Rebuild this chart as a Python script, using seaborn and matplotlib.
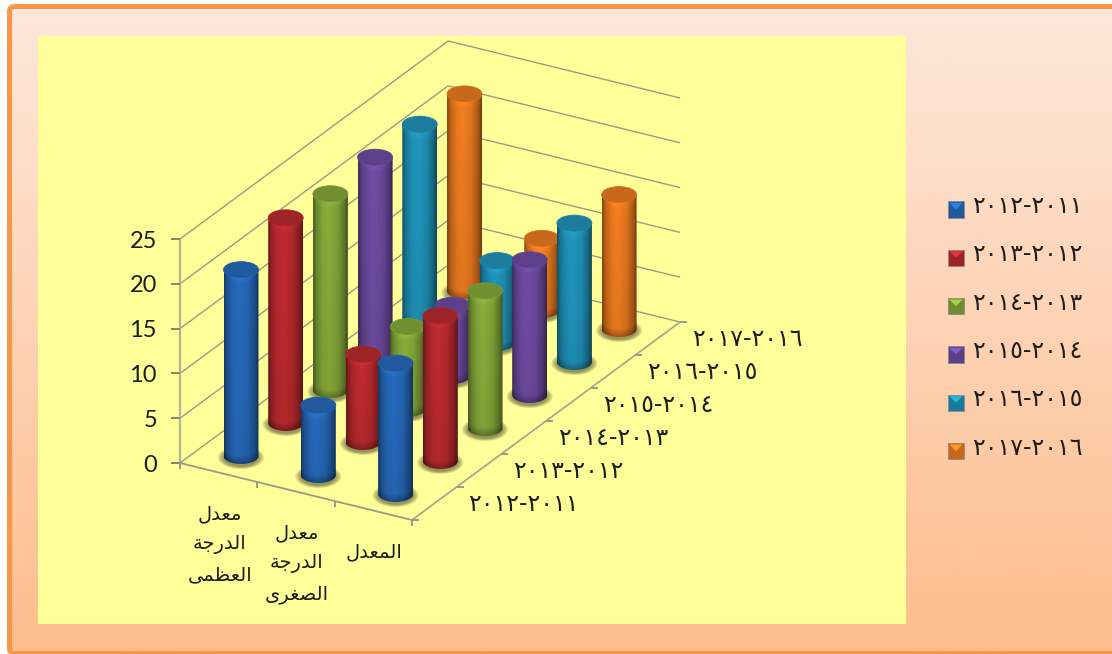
import numpy as np
import pandas as pd
import seaborn as sns
import matplotlib
matplotlib.use("Agg")
import matplotlib.pyplot as plt
from matplotlib.colors import to_rgb
from matplotlib.legend_handler import HandlerBase
from matplotlib.patches import Ellipse, FancyBboxPatch, Patch, PathPatch, Polygon, Rectangle
from matplotlib.path import Path

# ---- data -------------------------------------------------------------
periods = ["2012-2011", "2013-2012", "2014-2013", "2015-2014", "2016-2015", "2017-2016"]
categories = ["معدل\nالدرجة\nالعظمى", "معدل\nالدرجة\nالصغرى", "المعدل"]
max_temp = [20.8, 22.9, 21.9, 22.3, 22.3, 22.0]
min_temp = [7.8, 9.8, 9.2, 7.9, 9.2, 8.0]
mean_temp = [14.6, 16.2, 15.3, 15.1, 15.5, 15.0]
value_ticks = [0, 5, 10, 15, 20, 25]
series_colors = ["#2567B6", "#B8292D", "#83A638", "#6C4A9F", "#1F90B6", "#E9791E"]

# ---- oblique chart geometry, in figure pixels ---------------------------
W, H = 1112, 654
ORIGIN = np.array([180.0, 463.0])
CAT_STEP = np.array([77.3, 19.0])
DEPTH_STEP = np.array([44.7, -33.0])
PX_PER_UNIT = 8.96
RX, RY = 17.5, 8.0


def project(cat, depth, value=0.0):
    """Map (category, series depth, value) on to the figure plane."""
    return ORIGIN + cat * CAT_STEP + depth * DEPTH_STEP - np.array([0.0, value * PX_PER_UNIT])


# ---- Arabic shaping: matplotlib draws glyphs in string order, left to right -
FORMS = {
    "ا": ("\ufe8d", "\ufe8e"), "د": ("\ufea9", "\ufeaa"), "ر": ("\ufead", "\ufeae"),
    "ة": ("\ufe93", "\ufe94"), "ى": ("\ufeef", "\ufef0"),
    "ل": ("\ufedd", "\ufede", "\ufedf", "\ufee0"), "ج": ("\ufe9d", "\ufe9e", "\ufe9f", "\ufea0"),
    "ع": ("\ufec9", "\ufeca", "\ufecb", "\ufecc"), "ظ": ("\ufec5", "\ufec6", "\ufec7", "\ufec8"),
    "م": ("\ufee1", "\ufee2", "\ufee3", "\ufee4"), "ص": ("\ufeb9", "\ufeba", "\ufebb", "\ufebc"),
    "غ": ("\ufecd", "\ufece", "\ufecf", "\ufed0"),
}


def shape_line(word):
    out = []
    for i, ch in enumerate(word):
        forms = FORMS[ch]
        joins_prev = i > 0 and len(FORMS[word[i - 1]]) == 4
        joins_next = i < len(word) - 1 and len(forms) == 4
        if joins_prev and joins_next:
            out.append(forms[3])
        elif joins_prev:
            out.append(forms[1])
        elif joins_next:
            out.append(forms[2])
        else:
            out.append(forms[0])
    return "".join(reversed(out))


def shape(text):
    return "\n".join(shape_line(w) for w in text.split("\n"))


to_arabic_digits = str.maketrans("0123456789", "٠١٢٣٤٥٦٧٨٩")
period_labels = [p.translate(to_arabic_digits) for p in periods]

# ---- long-form table, farthest cylinder first ---------------------------
sns.set_theme(style="white")
palette = sns.color_palette(series_colors)

df = pd.DataFrame({"period": periods, "max": max_temp, "min": min_temp, "mean": mean_temp})
df["depth"] = range(len(periods))
long_df = df.melt(id_vars=["period", "depth"], var_name="measure", value_name="value")
long_df["cat"] = long_df["measure"].map({"max": 0, "min": 1, "mean": 2})
long_df["floor_y"] = [project(c + 0.5, d + 0.5)[1] for c, d in zip(long_df["cat"], long_df["depth"])]
long_df = long_df.sort_values("floor_y").reset_index(drop=True)

fig = plt.figure(figsize=(W / 100, H / 100), dpi=100, facecolor="white")
ax = fig.add_axes([0, 0, 1, 1])
ax.set_xlim(0, W)
ax.set_ylim(H, 0)
ax.set_autoscale_on(False)
ax.axis("off")

# ---- panel and plot area -------------------------------------------------
FRAME_BOX = dict(xy=(9.5, 6.5), width=W + 10, height=647, boxstyle="round,pad=0,rounding_size=5")
ax.add_patch(FancyBboxPatch(**FRAME_BOX, fc="none", ec="#F79646", lw=3.6, zorder=1.5))
ramp = np.linspace(0, 1, 256)[:, None, None]
top_col, bottom_col = np.array(to_rgb("#FDE8DB")), np.array(to_rgb("#FDBD8C"))
bg = ax.imshow(top_col * (1 - ramp) + bottom_col * ramp, extent=(0, W + 20, H, 6), aspect="auto", zorder=1)
clip = FancyBboxPatch(**FRAME_BOX, transform=ax.transData, fc="none", ec="none")
ax.add_patch(clip)
bg.set_clip_path(clip)
ax.add_patch(Rectangle((38, 36), 868, 588, fc="#FFFF99", ec="none", zorder=2))

# ---- walls, floor edges, ticks -------------------------------------------
LINE = "#9B9B84"
TEXT = "#1C1C1C"
n_cat, n_depth = len(categories), len(periods)


def seg(a, b, lw=1.0, color=LINE):
    ax.plot([a[0], b[0]], [a[1], b[1]], color=color, lw=lw, zorder=3, solid_capstyle="butt")


for v in value_ticks:
    seg(project(0, 0, v), project(0, n_depth, v))
    seg(project(0, n_depth, v), project(n_cat, n_depth, v))

seg(project(0, 0), project(0, 0, value_ticks[-1]), lw=1.6, color="#B5B58F")
seg(project(0, 0), project(n_cat, 0), lw=1.3)
seg(project(n_cat, 0), project(n_cat, n_depth), lw=1.3, color="#A8A88C")

for v in value_ticks:
    tick = project(0, 0, v)
    seg(tick, tick - [9, 0], lw=1.4, color="#85856E")
    ax.text(tick[0] - 23, tick[1], str(v), ha="right", va="center_baseline",
            family="Lato", size=17, color=TEXT, zorder=40)
for c in range(n_cat + 1):
    tick = project(c, 0)
    seg(tick, tick + [0, 6], lw=1.4)
for d in range(n_depth + 1):
    tick = project(n_cat, d)
    seg(tick, tick + [7, 0], lw=1.4)

# ---- category and depth axis labels --------------------------------------
for c, label in enumerate(categories):
    mid = project(c + 0.5, 0)
    ax.text(mid[0] + 1, mid[1] + 32, shape(label), ha="center", va="top", family="DejaVu Sans",
            size=14, linespacing=1.72, color=TEXT, zorder=40)
for d, label in enumerate(period_labels):
    tick = project(n_cat, d + 1)
    ax.text(tick[0] + 67, tick[1] + 17, label, ha="center", va="center", family="DejaVu Sans",
            size=17, color=TEXT, zorder=40)


# ---- cylinders -----------------------------------------------------------
def shaded(colour, factor):
    return np.clip(np.asarray(colour) * factor, 0, 1)


def draw_cylinder(cx, base_y, top_y, colour, z):
    """Body as a shaded image clipped to the silhouette, then the end cap."""
    x0, x1 = cx - RX, cx + RX
    y0, y1 = top_y, base_y + RY
    xs = np.linspace(-1, 1, 70)
    ys = np.linspace(y0, y1, max(int(y1 - y0) * 2, 4))
    uu, yy = np.meshgrid(xs, ys)
    side = np.interp(uu, [-1, -0.8, -0.45, -0.1, 0.4, 0.8, 1],
                     [0.58, 0.82, 1.0, 1.05, 0.96, 0.72, 0.5])
    arc = RY * np.sqrt(np.clip(1 - uu ** 2, 0, 1))
    bottom_dark = 1 - 0.28 * np.clip(1 - (base_y + arc - yy) / 8, 0, 1)
    top_light = 1 + 0.08 * np.clip(1 - (yy - (top_y + arc)) / 7, 0, 1)
    fall = 1 - 0.07 * (yy - y0) / (y1 - y0)
    factor = (side * bottom_dark * top_light * fall)[..., None]
    img = ax.imshow(shaded(colour, factor), extent=(x0, x1, y1, y0), aspect="auto",
                    interpolation="bilinear", zorder=z)
    theta = np.linspace(np.pi, 0, 40)
    lower = np.column_stack([cx + RX * np.cos(theta), base_y + RY * np.sin(theta)])
    verts = np.vstack([[[x0, top_y]], lower, [[x1, top_y]], [[x0, top_y]]])
    outline = PathPatch(Path(verts), transform=ax.transData, fc="none", ec="none")
    ax.add_patch(outline)
    img.set_clip_path(outline)
    ax.add_patch(Ellipse((cx, top_y), 2 * RX, 2 * RY, fc=shaded(colour, 0.86), ec=shaded(colour, 0.92),
                         lw=0.6, zorder=z + 0.1))


# contact shadows on the floor go below every cylinder
for row in long_df.itertuples():
    cx, cy = project(row.cat + 0.5, row.depth + 0.5)
    for grow in np.linspace(1.32, 1.0, 6):
        ax.add_patch(Ellipse((cx, cy + 1.5), 2 * RX * grow, 2 * RY * (grow + 0.12),
                             fc="#4A4A2A", ec="none", alpha=0.13, zorder=3.5))

for i, row in enumerate(long_df.itertuples()):
    cx, cy = project(row.cat + 0.5, row.depth + 0.5)
    _, top_y = project(row.cat + 0.5, row.depth + 0.5, row.value)
    draw_cylinder(cx, cy, top_y, palette[row.depth], 5 + i)


# ---- legend with bevelled keys, set slightly below the text's centre ------
class BevelKey(HandlerBase):
    def create_artists(self, legend, orig_handle, xdescent, ydescent, width, height, fontsize, trans):
        col = np.array(orig_handle.get_facecolor()[:3])
        x, y = -xdescent, -ydescent - 3.5
        box = Rectangle((x, y), width, height, fc=shaded(col, 0.85), ec="#8A8A8A", lw=0.6, transform=trans)
        wedge = Polygon([[x + 1, y + height - 1], [x + width - 1, y + height - 1],
                         [x + width / 2, y + height * 0.5]], fc=shaded(col, 1.25), ec="none", transform=trans)
        return [box, wedge]


handles = [Patch(facecolor=c, label=l) for c, l in zip(palette, period_labels)]
leg = ax.legend(handles=handles, labels=period_labels, loc="upper left",
                bbox_to_anchor=(948, 194), bbox_transform=ax.transData, frameon=False,
                prop={"family": "DejaVu Sans", "size": 17}, labelcolor=TEXT,
                handler_map={Patch: BevelKey()}, handlelength=0.68, handleheight=0.68,
                handletextpad=0.34, labelspacing=1.03, borderpad=0, borderaxespad=0)
leg.set_zorder(40)

fig.savefig("out.png", dpi=100, facecolor="white")
